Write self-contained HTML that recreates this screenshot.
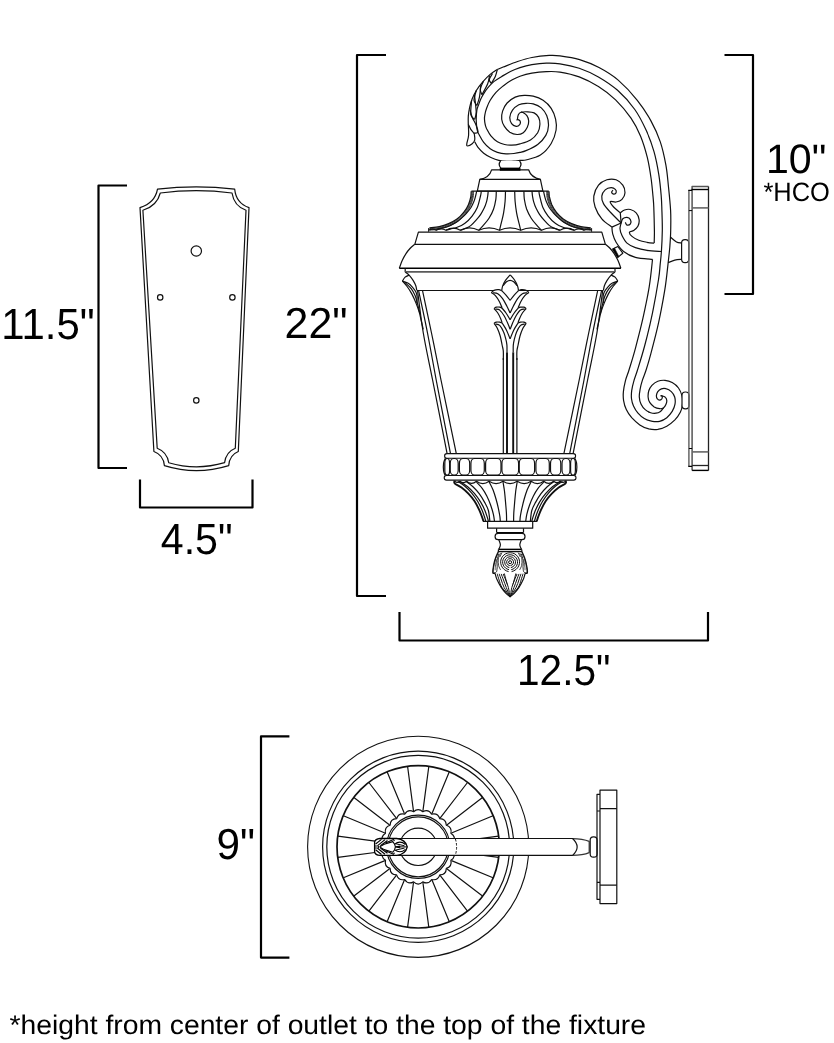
<!DOCTYPE html>
<html><head><meta charset="utf-8"><title>Fixture dimensions</title>
<style>
html,body{margin:0;padding:0;background:#fff;}
body{width:834px;height:1043px;overflow:hidden;}
svg{display:block;}
text{font-family:"Liberation Sans",sans-serif;fill:#000;will-change:opacity;text-rendering:geometricPrecision;}
path,rect,circle,ellipse{stroke-linejoin:round;}
</style></head><body>
<svg width="834" height="1043" viewBox="0 0 834 1043">
<rect x="0" y="0" width="834" height="1043" fill="#fff" stroke="none"/>
<path d="M127,185.5 H98.5 V468 H127" fill="none" stroke="#000" stroke-width="2.2" stroke-linejoin="miter"/>
<path d="M140,479.5 V507.5 H252.5 V479.5" fill="none" stroke="#000" stroke-width="2.2" stroke-linejoin="miter"/>
<path d="M386,55 H357 V596 H386" fill="none" stroke="#000" stroke-width="2.2" stroke-linejoin="miter"/>
<path d="M399.5,612 V640.5 H708 V612" fill="none" stroke="#000" stroke-width="2.2" stroke-linejoin="miter"/>
<path d="M724.5,55 H753 V294 H724.5" fill="none" stroke="#000" stroke-width="2.2" stroke-linejoin="miter"/>
<path d="M289.4,736.4 H261 V957.6 H289.4" fill="none" stroke="#000" stroke-width="2.2" stroke-linejoin="miter"/>
<text transform="translate(1.2 339.2) scale(1 1.035)" font-size="42" textLength="93.4" lengthAdjust="spacingAndGlyphs">11.5"</text>
<text transform="translate(284.6 338.2) scale(1 1.035)" font-size="42" textLength="63" lengthAdjust="spacingAndGlyphs">22"</text>
<text transform="translate(160.8 553.9) scale(1 1.035)" font-size="42" textLength="71.8" lengthAdjust="spacingAndGlyphs">4.5"</text>
<text transform="translate(517 685) scale(1 1.035)" font-size="42" textLength="93.4" lengthAdjust="spacingAndGlyphs">12.5"</text>
<text transform="translate(766 173.3) scale(1 1.000)" font-size="41.2" textLength="60.3" lengthAdjust="spacingAndGlyphs">10"</text>
<text transform="translate(763.4 201.4) scale(1 1.000)" font-size="26.6" textLength="66.5" lengthAdjust="spacingAndGlyphs">*HCO</text>
<text transform="translate(216.6 859) scale(1 1.035)" font-size="42" textLength="38.5" lengthAdjust="spacingAndGlyphs">9"</text>
<text transform="translate(9.5 1033.8) scale(1 1.000)" font-size="26.9" textLength="636.5" lengthAdjust="spacingAndGlyphs">*height from center of outlet to the top of the fixture</text>
<path d="M157.5,189.2 Q196.3,184.4 234.7,189.2 Q236,203 249,207.6 L238.3,451.5 Q229.5,455 228.7,465.6 Q196.3,475.6 164.4,465.6 Q163.5,455 153.9,451.5 L140,207.6 Q155,203 157.5,189.2Z" fill="none" stroke="#111" stroke-width="1.2"/>
<path d="M160.3,193 Q196.3,188.4 232,193 Q234,206 246,210.3 L235.3,448.3 Q226,452 224.6,462.7 Q196.3,471 168.7,462.7 Q167,452 157.2,448.3 L142.9,210.3 Q157,206 160.3,193Z" fill="none" stroke="#111" stroke-width="1.2"/>
<circle cx="196.3" cy="251" r="5.2" fill="none" stroke="#111" stroke-width="1.2"/>
<circle cx="160.2" cy="297.4" r="2.7" fill="none" stroke="#111" stroke-width="1.2"/>
<circle cx="232.4" cy="297.4" r="2.7" fill="none" stroke="#111" stroke-width="1.2"/>
<circle cx="196.3" cy="400.4" r="2.7" fill="none" stroke="#111" stroke-width="1.2"/>
<path d="M497.4,69.4 C498.4,69 499.8,68.3 503.2,67 C506.6,65.7 512.8,63.1 517.6,61.5 C522.4,59.9 526.6,58.5 531.9,57.5 C537.2,56.5 544.5,55.7 549.2,55.4 C553.9,55.1 554.9,55.1 560,55.8 C565.1,56.5 573.1,57.6 579.6,59.6 C586.1,61.6 592.6,64.1 599,67.5 C605.4,70.9 611.8,74.6 618.2,80.1 C624.6,85.6 631.9,93.5 637.3,100.3 C642.7,107 647,113.7 650.8,120.6 C654.6,127.5 657.8,134.5 660.3,141.9 C662.8,149.3 664.5,157.6 665.9,165.1 C667.3,172.6 667.7,179.4 668.5,187 C669.3,194.6 670.2,203.2 670.6,210.4 C671,217.7 670.8,224.3 670.7,230.5 C670.6,236.7 670.2,241.7 669.8,247.3 C669.3,252.9 668.8,257 668,264.1 C667.2,271.2 666.4,280.1 664.8,289.9 C663.2,299.6 660.9,312 658.6,322.6 C656.3,333.2 652.9,345.9 650.8,353.8 C648.7,361.7 647.5,365.6 646.1,370 C644.7,374.4 643.5,376.8 642.5,379.9 C641.5,383 640.7,386 640.2,388.9 C639.7,391.8 639.1,394.4 639.3,397 C639.4,399.6 640.1,402.1 641.1,404.2 C642.1,406.3 643.6,408.2 645.2,409.6 C646.8,411 648.8,412.1 650.6,412.7 C652.4,413.3 654.4,413.4 656,413.2 C657.6,413 659.2,412.3 660.5,411.4 C661.8,410.5 663.1,408.4 663.6,407.8" fill="none" stroke="#111" stroke-width="1.2"/>
<path d="M652.5,259.4 C652,264 650.8,277.1 649.2,286.8 C647.6,296.6 645.3,307.5 643,317.9 C640.7,328.3 637.5,340.4 635.2,349.1 C632.9,357.8 630.6,364.7 629,370 C627.4,375.3 626.3,377.2 625.4,380.8 C624.5,384.4 623.7,388.3 623.4,391.6 C623.1,394.9 623.1,397.6 623.6,400.6 C624.1,403.6 624.9,406.8 626.3,409.6 C627.6,412.5 629.5,415.1 631.7,417.7 C634,420.2 636.9,423 639.8,424.9 C642.6,426.8 645.8,428.1 648.8,428.9 C651.8,429.6 654.8,429.8 657.8,429.4 C660.8,428.9 663.9,427.8 666.8,426.2 C669.6,424.6 672.6,422.2 674.9,419.9 C677.1,417.6 679,414.9 680.3,412.3 C681.6,409.7 682.2,406.9 682.5,404.2 C682.8,401.5 682.8,398.8 682.1,396.1 C681.4,393.4 680.1,390.2 678.5,388 C676.9,385.8 674.5,383.9 672.2,382.6 C670,381.3 667.4,380.5 665,380.3 C662.6,380.1 660,380.4 657.8,381.2 C655.6,382 653.4,383.7 651.9,385.3 C650.4,386.9 649.4,388.8 648.8,390.7 C648.2,392.6 648,395.1 648.1,397 C648.2,398.9 648.7,400.8 649.7,402.4 C650.7,404 652.6,405.8 654.2,406.9 C655.9,407.9 658,408.5 659.6,408.7 C661.2,408.9 662.6,408.5 663.6,407.8 C664.6,407.1 665.4,405.8 665.9,404.6 C666.4,403.4 666.9,401.8 666.8,400.6 C666.7,399.4 666.1,398.1 665.4,397.4 C664.7,396.6 663.5,396.4 662.7,396.1 C661.9,395.8 660.9,395.7 660.5,395.6" fill="none" stroke="#111" stroke-width="1.2"/>
<path d="M474.7,141.7 C475.2,142.6 476.5,145.5 478,147.4 C479.5,149.3 481.6,151.5 483.7,153.2 C485.8,154.9 488.4,156.3 490.9,157.5 C493.4,158.7 496.1,159.8 498.8,160.4 C501.5,161.1 504.3,161.3 506.8,161.4 C509.3,161.5 511.8,161.4 514,161.2 C516.2,161 518,160.6 520,160.4 C522,160.2 522.6,160.9 526,160 C529.4,159.1 536.2,157.8 540.4,155.1 C544.6,152.3 548.6,147.7 551.2,143.5 C553.8,139.3 555.4,134.1 556.1,130 C556.8,126 556.4,122.8 555.6,119.2 C554.8,115.6 553.3,111.6 551.2,108.4 C549.1,105.2 546.1,102.3 543.1,100.3 C540.1,98.3 536.4,97 533.2,96.2 C530.1,95.4 527.2,95.2 524.2,95.3 C521.2,95.4 518.1,95.8 515.2,97.1 C512.4,98.4 509.2,100.7 507.1,103 C505,105.3 503.5,108.4 502.6,111.1 C501.7,113.8 501.4,116.7 501.7,119.2 C502,121.8 503,124.2 504.4,126.4 C505.8,128.6 507.7,130.8 509.8,132.2 C511.9,133.5 514.8,134.4 517,134.5 C519.2,134.6 521.6,133.9 523.3,132.7 C525,131.5 526.4,129.2 527.3,127.3 C528.2,125.3 528.8,123 528.7,121 C528.6,119 527.9,117 526.9,115.6 C525.9,114.2 523.8,113 522.8,112.4 C521.8,111.8 521.3,112.2 521,112.2" fill="none" stroke="#111" stroke-width="1.2"/>
<path d="M516.5,120.1 C516.7,120 517.3,119.4 517.9,119.6 C518.5,119.8 519.8,120.2 520.1,121 C520.4,121.8 520.4,123.7 519.7,124.6 C519,125.5 517.5,126.6 516.1,126.4 C514.8,126.2 512.6,125.2 511.6,123.7 C510.6,122.2 509.7,119.7 509.8,117.4 C509.9,115.2 511,112.3 512.5,110.2 C514,108.1 516.5,106 518.8,104.8 C521,103.6 523.6,103.4 526,103.3 C528.4,103.2 530.7,103.1 533.2,103.9 C535.8,104.7 539,106 541.3,107.9 C543.5,109.9 545.5,112.7 546.7,115.6 C547.9,118.5 548.6,122.2 548.5,125.5 C548.4,128.8 547.6,132.2 545.8,135.4 C544,138.6 541,141.9 537.7,144.4 C534.4,146.9 529,149.3 526,150.6 C523,151.9 522,151.9 520,152.4 C518,152.9 516.3,153.2 514,153.5 C511.7,153.8 508.8,154.1 506,153.9 C503.2,153.7 500,153.2 497.4,152.4 C494.8,151.6 492.5,150.5 490.2,148.8 C487.9,147.1 485.5,144.7 483.7,142.4 C481.9,140.1 480.4,137 479.4,135.2 C478.4,133.4 478.1,133 477.6,131.6 C477.2,130.2 476.9,128.6 476.7,126.6 C476.5,124.6 476.2,122.2 476.2,119.4 C476.2,116.6 476.5,112.5 476.9,110 C477.3,107.5 478,106.5 478.7,104.6 C479.4,102.7 479.9,100.8 480.9,98.8 C481.9,96.8 483.2,94.4 484.5,92.4 C485.8,90.4 487.2,88.4 488.8,86.6 C490.4,84.8 491.7,83.3 493.8,81.6 C495.9,79.9 498.9,78.2 501.7,76.5 C504.5,74.8 507.3,73 510.4,71.5 C513.4,70 516.4,68.8 520,67.6 C523.6,66.4 527.5,65.3 531.9,64.6 C536.3,63.9 541.6,63.3 546.3,63.2 C551,63.1 554.5,63 560,63.8 C565.5,64.6 572.8,66 579.2,68.2 C585.6,70.4 592,73.2 598.4,76.9 C604.8,80.6 611.5,84.9 617.6,90.3 C623.7,95.7 630,102.8 634.8,109.5 C639.6,116.2 643.1,123.6 646.3,130.6 C649.5,137.6 651.9,144.3 654,151.7 C656.1,159 657.6,167.3 658.8,174.7 C660,182 660.7,189.9 661.2,195.8 C661.7,201.8 661.7,204.6 661.9,210.4 C662.1,216.2 662.4,223.7 662.3,230.5 C662.2,237.3 661.8,245.9 661.4,251.5 C661,257.1 660.7,259.5 660.2,264.1 C659.7,268.7 659.9,270.8 658.6,279 C657.3,287.2 654.7,302.1 652.4,313.3 C650.1,324.5 647.1,336.6 644.6,346 C642.1,355.4 639.3,364.2 637.5,370 C635.7,375.8 634.9,377.4 633.9,380.8 C632.9,384.2 632.1,387.7 631.7,390.7 C631.3,393.7 631.2,396.2 631.5,398.8 C631.8,401.4 632.4,403.6 633.5,406 C634.6,408.4 636.2,411.1 638,413.2 C639.8,415.3 641.9,417.2 644.3,418.6 C646.7,420 649.8,420.9 652.4,421.3 C655,421.8 657.2,421.9 659.6,421.3 C662,420.7 664.7,419.4 666.8,417.7 C668.9,416 670.8,413.6 672.2,411.4 C673.6,409.1 674.6,406.6 675,404.2 C675.4,401.8 675.3,399.1 674.7,397 C674.1,394.9 672.8,393 671.3,391.6 C669.8,390.2 667.5,389.1 665.9,388.7 C664.2,388.2 662.8,388.4 661.4,388.9 C660,389.4 658.6,390.5 657.8,391.6 C657,392.7 656.5,394.4 656.4,395.6 C656.3,396.8 656.8,398.1 657.3,398.8 C657.8,399.6 658.9,400.1 659.6,400.1 C660.4,400.1 661.3,399.4 661.8,398.8 C662.2,398.2 662.4,397 662.3,396.5 C662.1,396 661.1,395.8 660.9,395.6" fill="none" stroke="#111" stroke-width="1.2"/>
<path d="M517.4,119.6 C517.5,118.8 517.7,115.9 518.3,114.7 C518.9,113.5 519.4,112.7 521,112.2 C522.6,111.7 525.6,111.7 527.8,111.8 C530,111.9 532.3,112 534.1,112.9 C535.9,113.8 537.6,115.5 538.6,117.4 C539.6,119.4 540,122 539.9,124.6 C539.8,127.1 539.3,130.1 537.7,132.7 C536.1,135.2 533.5,138.1 530.5,139.9 C527.5,141.8 523.1,142.9 520,143.8 C516.9,144.7 514.4,145 511.8,145.1 C509.2,145.2 507,145.1 504.6,144.5 C502.2,143.9 499.7,143.1 497.4,141.7 C495.1,140.3 492.7,138.1 490.9,135.9 C489.1,133.7 487.6,130.6 486.6,128.7 C485.7,126.8 485.6,126 485.2,124.5 C484.8,123 484.6,121.1 484.5,119.4 C484.4,117.8 484.5,116.5 484.9,114.6 C485.2,112.7 485.7,110.6 486.6,108.2 C487.5,105.8 488.6,102.9 490.2,100.3 C491.8,97.7 493.8,94.8 496,92.4 C498.2,90 500.6,88 503.2,85.9 C505.8,83.9 509,81.7 511.8,80.1 C514.6,78.5 516.6,77.3 520,76.2 C523.4,75.1 527.5,74 531.9,73.2 C536.3,72.4 541.6,71.8 546.3,71.6 C551,71.4 554.5,71.2 560,72.1 C565.5,73 572.8,74.5 579.2,76.9 C585.6,79.3 592.3,82.7 598.4,86.5 C604.5,90.3 610.2,94.6 615.6,99.9 C621,105.2 626.8,112 631,118.1 C635.2,124.2 637.9,129.8 640.6,136.3 C643.3,142.9 645.5,150.4 647.3,157.4 C649,164.4 650.1,171.5 651.1,178.5 C652.1,185.5 652.8,194.3 653.3,199.6 C653.8,204.9 653.7,205.2 653.9,210.4 C654.1,215.6 654.3,225.1 654.4,230.5 C654.5,235.9 654.2,241 654.2,243.1" fill="none" stroke="#111" stroke-width="1.2"/>
<path d="M497.4,69.4 C496.2,70.2 492.6,72.4 490.2,74.4 C487.8,76.4 485.3,79 483,81.6 C480.7,84.2 478.3,87.3 476.5,90.2 C474.7,93.1 473.3,95.9 472.2,98.8 C471.1,101.7 470.2,104.6 469.6,107.5 C469,110.4 468.5,113.3 468.3,116.1 C468.1,118.9 468.2,121.2 468.3,124.4 C468.4,127.6 468.9,132 468.6,135.2 C468.4,138.4 467,142 466.8,143.8 C466.6,145.6 466.7,146 467.6,146 C468.5,146 471,144.8 472.2,143.8 C473.4,142.8 474.3,141.8 474.7,140.2 C475.1,138.6 474.6,135.7 474.4,134.5 C474.2,133.3 473.8,133.2 473.7,133" fill="none" stroke="#111" stroke-width="1.2"/>
<path d="M497.4,69.4 C497,70.6 496.3,74.2 495.3,76.5 C494.3,78.8 492,82.2 491.3,83.4" fill="none" stroke="#111" stroke-width="1.2"/>
<path d="M491.3,83.4 C491,82.8 489.1,81.2 489.3,79.5 C489.5,77.8 492,74.5 492.5,73.5" fill="none" stroke="#111" stroke-width="1.2"/>
<path d="M489.5,75.5 C489.2,76.9 489,80.5 487.7,83.7 C486.4,86.9 482.9,92.9 481.9,94.7" fill="none" stroke="#111" stroke-width="1.2"/>
<path d="M481.9,94.7 C481.6,93.7 480,91 480.3,88.8 C480.6,86.5 483,82.5 483.5,81.2" fill="none" stroke="#111" stroke-width="1.2"/>
<path d="M480.9,85.2 C480.6,87.2 480.1,94 479.4,97.4 C478.7,100.8 477.3,104.2 476.9,105.5" fill="none" stroke="#111" stroke-width="1.2"/>
<path d="M476.9,105.5 C476.4,104.6 474.1,102.8 474,100.3 C473.9,97.8 475.9,92.1 476.3,90.5" fill="none" stroke="#111" stroke-width="1.2"/>
<path d="M474.4,94.5 C474.7,97.4 476.1,107.6 476.2,111.8 C476.2,116 474.9,118.1 474.7,119.4" fill="none" stroke="#111" stroke-width="1.2"/>
<path d="M474.7,119.4 C474.1,118.6 471.3,117.9 470.8,114.7 C470.3,111.5 471.5,102.5 471.6,100" fill="none" stroke="#111" stroke-width="1.2"/>
<path d="M470.1,110 C470.5,111.2 471.2,114.8 472.2,117.2 C473.1,119.6 474.8,122 475.8,124.4 C476.8,126.8 477.9,130.2 478,131.6 C478.1,133 477.2,132.8 476.5,133 C475.8,133.2 474.2,133 473.7,133" fill="none" stroke="#111" stroke-width="1.2"/>
<path d="M468.3,124.4 C468.7,125.2 469.9,128 470.8,129.4 C471.7,130.8 473.2,132.4 473.7,133" fill="none" stroke="#111" stroke-width="1.2"/>
<path d="M611.9,227.1 C610.2,225.7 604.6,222.2 601.8,218.8 C599,215.5 596.4,210.8 595.1,207 C593.8,203.2 593.2,199.7 593.8,196.1 C594.4,192.5 596.3,187.9 598.5,185.2 C600.7,182.5 604,180.7 606.9,179.8 C609.8,178.9 613.5,178.9 616.1,179.8 C618.8,180.7 621.3,183 622.8,185.2 C624.3,187.3 625.1,190.3 625,192.7 C624.9,195.1 623.5,197.8 622,199.4 C620.5,201 618.1,201.6 616.1,202 C614.1,202.4 610.6,200.8 610.2,201.6 C609.8,202.4 611.9,205.1 613.6,207 C615.3,208.9 619.2,211.9 620.3,212.9" fill="none" stroke="#111" stroke-width="1.2"/>
<path d="M621.1,223 C619.3,221.2 613.1,215.2 610.2,212 C607.3,208.8 604.9,206.2 603.5,203.6 C602.1,200.9 601.5,198.4 601.8,196.1 C602.1,193.8 603.7,191.3 605.2,189.9 C606.8,188.5 609.4,187.8 611.1,187.7 C612.8,187.6 614.5,188.6 615.3,189.4 C616.1,190.2 616.4,191.9 616.1,192.7 C615.8,193.5 614.4,194.2 613.6,194.1 C612.9,194 611.7,192.8 611.6,192.2 C611.5,191.5 612.7,190.5 612.9,190.2" fill="none" stroke="#111" stroke-width="1.2"/>
<path d="M620.3,212.9 C621,212.4 622.8,210.6 624.5,210 C626.2,209.4 628.4,209 630.4,209.5 C632.4,210 634.8,211.2 636.2,212.9 C637.7,214.6 638.8,217.4 639.1,219.6 C639.4,221.8 638.8,224.5 637.9,226.3 C637,228.1 635.1,229.5 633.7,230.5 C632.3,231.5 629.8,231.2 629.5,232.2 C629.2,233.2 630.5,235.1 632,236.4 C633.5,237.7 636.3,239.2 638.8,240.2 C641.3,241.2 644.5,241.8 647.1,242.3 C649.7,242.8 653,243 654.2,243.1" fill="none" stroke="#111" stroke-width="1.2"/>
<path d="M621.1,223 C621.4,222.3 621.8,219.7 622.8,218.8 C623.8,217.9 625.7,217.3 627,217.4 C628.3,217.5 629.8,218.5 630.4,219.6 C631,220.7 631,222.9 630.4,223.8 C629.8,224.7 627.9,225.3 627,225.1 C626.1,224.9 625.6,222.8 625.3,222.4" fill="none" stroke="#111" stroke-width="1.2"/>
<path d="M611.9,227.1 C612,228.2 612,231.4 612.7,233.9 C613.4,236.4 614.3,239.4 616.1,242.3 C617.9,245.2 620.4,249 623.6,251.5 C626.8,254 630.6,256.1 635.4,257.4 C640.2,258.7 649.6,259.1 652.5,259.4" fill="none" stroke="#111" stroke-width="1.2"/>
<path d="M621.1,223 C620.9,224 619.9,226.7 620,228.8 C620.1,230.9 620.8,233.1 622,235.5 C623.2,237.9 624.8,241.1 627,243.1 C629.2,245.1 632,246.4 635.4,247.6 C638.8,248.8 642.8,249.7 647.1,250.3 C651.4,251 659,251.3 661.4,251.5" fill="none" stroke="#111" stroke-width="1.2"/>
<path d="M611.9,227.1 L621.1,223 L620.3,212.9" fill="none" stroke="#111" stroke-width="1.2"/>
<path d="M612.7,249 L617.8,246.5 L622.8,253.2 L617.8,257.4Z" fill="#fff" stroke="#111" stroke-width="1.2"/>
<path d="M612.7,249 L614.5,248.1 L618.9,256.5 L617.8,257.4Z" fill="#000" stroke="#111" stroke-width="0.6"/>
<path d="M670.6,237.2 C671.6,238 674.7,240.9 676.5,241.9 C678.3,242.9 680.8,242.9 681.6,243.1" fill="none" stroke="#111" stroke-width="1.2"/>
<path d="M668.1,262.7 C669.2,262.3 672.5,260.8 674.8,260.2 C677,259.6 680.5,259.5 681.6,259.4" fill="none" stroke="#111" stroke-width="1.2"/>
<rect x="681.6" y="239.7" width="7.2" height="23" rx="3.4" fill="#fff" stroke="#111" stroke-width="1.2"/>
<rect x="682" y="392" width="7" height="16.8" rx="3.3" fill="#fff" stroke="#111" stroke-width="1.2"/>
<path d="M692.1,470.4 V186.6 H708.5" fill="none" stroke="#555" stroke-width="1.5"/>
<path d="M708.5,186.6 V470.4" fill="none" stroke="#222" stroke-width="1.3"/>
<path d="M692.1,470.4 H708.5" fill="none" stroke="#000" stroke-width="1.4"/>
<path d="M691.5,189.5 H708.5" fill="none" stroke="#000" stroke-width="1.4"/>
<path d="M692.1,207.9 H708.5" fill="none" stroke="#666" stroke-width="1.6"/>
<path d="M692.1,451.9 H708.5" fill="none" stroke="#666" stroke-width="1.6"/>
<path d="M692.1,465.5 H708.5" fill="none" stroke="#222" stroke-width="1.3"/>
<path d="M688.9,190.3 V466.4" fill="none" stroke="#666" stroke-width="1.5"/>
<path d="M688.3,190.3 H692.1 M688.3,466.4 H692.1" fill="none" stroke="#000" stroke-width="1.2"/>
<path d="M688.9,210.6 H692.1 M688.9,448.5 H692.1" fill="none" stroke="#000" stroke-width="1"/>
<path d="M500.6,161 Q497.6,164.6 501.2,168.4 H519 Q522.6,164.6 519.6,161" fill="#fff" stroke="#111" stroke-width="1.2"/>
<path d="M491.6,169.8 H528.6 Q531,177.5 540.4,179.4 L542.9,191.1 H477.3 L479.8,179.4 Q489.5,177.5 491.6,169.8Z" fill="#fff" stroke="#111" stroke-width="1.2"/>
<path d="M479.8,179.4 H540.4" fill="none" stroke="#111" stroke-width="1.2"/>
<path d="M500,168.1 H520.2 V170.5 H500Z" fill="#000" stroke="#000" stroke-width="0.5"/>
<path d="M471.4,191.1 H548.8" fill="none" stroke="#111" stroke-width="1.2"/>
<path d="M471.2,191.2 C471.1,192.1 471.2,194.5 470.8,196.7 C470.4,198.9 469.6,201.8 468.5,204.4 C467.4,207 465.8,209.7 463.9,212.1 C462,214.5 459.6,217.1 457,219 C454.4,220.9 451.6,222.3 448.6,223.6 C445.7,224.9 442.5,226 439.3,226.7 C436.1,227.4 431,227.6 429.4,227.8" fill="none" stroke="#111" stroke-width="1.2"/>
<path d="M549,191.2 C549.1,192.1 549,194.5 549.4,196.7 C549.9,198.9 550.6,201.8 551.7,204.4 C552.9,207 554.4,209.7 556.3,212.1 C558.2,214.5 560.7,217.1 563.2,219 C565.8,220.9 568.6,222.3 571.6,223.6 C574.6,224.9 577.7,226 580.9,226.7 C584.1,227.4 589.2,227.6 590.8,227.8" fill="none" stroke="#111" stroke-width="1.2"/>
<path d="M472,191.2 C471.9,192.1 472,194.6 471.6,196.9 C471.1,199.1 470.4,202.1 469.2,204.7 C468.1,207.3 466.5,210.1 464.5,212.6 C462.6,215.1 460.1,217.7 457.5,219.6 C454.9,221.6 451.9,223 448.9,224.3 C445.9,225.6 442.7,226.8 439.5,227.5 C436.2,228.2 431.2,228.4 429.5,228.6" fill="none" stroke="#111" stroke-width="0.8"/>
<path d="M548.2,191.2 C548.3,192.1 548.2,194.6 548.6,196.9 C549.1,199.1 549.8,202.1 551,204.7 C552.1,207.3 553.7,210.1 555.7,212.6 C557.6,215.1 560.1,217.7 562.7,219.6 C565.3,221.6 568.3,223 571.3,224.3 C574.3,225.6 577.5,226.8 580.7,227.5 C584,228.2 589,228.4 590.7,228.6" fill="none" stroke="#111" stroke-width="0.8"/>
<path d="M472.8,191.2 C472.7,192.2 472.8,194.7 472.4,197 C471.9,199.3 471.2,202.4 470,205.1 C468.8,207.7 467.2,210.6 465.2,213.1 C463.2,215.6 460.6,218.3 458,220.3 C455.3,222.3 452.3,223.7 449.2,225.1 C446.2,226.4 442.9,227.5 439.6,228.3 C436.4,229 431.3,229.2 429.6,229.4" fill="none" stroke="#111" stroke-width="0.8"/>
<path d="M547.4,191.2 C547.5,192.2 547.4,194.7 547.8,197 C548.3,199.3 549,202.4 550.2,205.1 C551.4,207.7 553,210.6 555,213.1 C557,215.6 559.6,218.3 562.2,220.3 C564.9,222.3 567.9,223.7 571,225.1 C574,226.4 577.3,227.5 580.6,228.3 C583.8,229 588.9,229.2 590.6,229.4" fill="none" stroke="#111" stroke-width="0.8"/>
<path d="M473.6,191.2 C473.5,192.2 473.6,194.8 473.2,197.2 C472.7,199.5 471.9,202.6 470.7,205.4 C469.5,208.1 467.8,211 465.8,213.6 C463.7,216.2 461.1,218.9 458.4,220.9 C455.7,223 452.7,224.4 449.6,225.8 C446.5,227.2 443.1,228.3 439.8,229 C436.5,229.8 431.4,230 429.7,230.2" fill="none" stroke="#111" stroke-width="0.8"/>
<path d="M546.6,191.2 C546.7,192.2 546.6,194.8 547,197.2 C547.5,199.5 548.3,202.6 549.5,205.4 C550.7,208.1 552.4,211 554.4,213.6 C556.5,216.2 559.1,218.9 561.8,220.9 C564.5,223 567.5,224.4 570.6,225.8 C573.7,227.2 577.1,228.3 580.4,229 C583.7,229.8 588.8,230 590.5,230.2" fill="none" stroke="#111" stroke-width="0.8"/>
<path d="M505.5,191.2 C505.4,192.9 505.4,197.7 505.1,201.3 C504.8,204.9 504.2,209.3 503.6,212.9 C503,216.5 502,219.9 501.3,222.8 C500.6,225.7 499.8,229.1 499.5,230.3" fill="none" stroke="#111" stroke-width="1.2"/>
<path d="M514.7,191.2 C514.8,192.9 514.8,197.7 515.1,201.3 C515.4,204.9 516,209.3 516.6,212.9 C517.2,216.5 518.2,219.9 518.9,222.8 C519.6,225.7 520.4,229.1 520.7,230.3" fill="none" stroke="#111" stroke-width="1.2"/>
<path d="M496.3,191.2 C496.2,192.5 496.3,196 495.9,199 C495.4,202 494.8,205.8 493.6,209 C492.5,212.2 490.8,215.4 489,218.2 C487.2,221 484.6,223.9 482.9,225.9 C481.2,227.9 479.4,229.6 478.7,230.3" fill="none" stroke="#111" stroke-width="1.2"/>
<path d="M523.9,191.2 C524,192.5 523.9,196 524.3,199 C524.8,202 525.5,205.8 526.6,209 C527.8,212.2 529.4,215.4 531.2,218.2 C533,221 535.6,223.9 537.3,225.9 C539,227.9 540.8,229.6 541.5,230.3" fill="none" stroke="#111" stroke-width="1.2"/>
<path d="M488.2,191.2 C488.1,192 488,194.2 487.7,196 C487.4,197.8 487.1,199.8 486.5,201.8 C485.9,203.8 485.2,206 484.2,208.1 C483.2,210.2 482,212.4 480.7,214.4 C479.4,216.4 477.7,218.4 476.1,220.2 C474.5,222 472.5,224.1 471,225.4 C469.5,226.7 468.7,227.1 466.9,227.9 C465.1,228.7 461.4,229.9 460.3,230.3" fill="none" stroke="#111" stroke-width="1.2"/>
<path d="M532,191.2 C532.1,192 532.2,194.2 532.5,196 C532.8,197.8 533.1,199.8 533.7,201.8 C534.3,203.8 535,206 536,208.1 C537,210.2 538.1,212.4 539.5,214.4 C540.9,216.4 542.5,218.4 544.1,220.2 C545.7,222 547.7,224.1 549.2,225.4 C550.7,226.7 551.5,227.1 553.3,227.9 C555.1,228.7 558.8,229.9 559.9,230.3" fill="none" stroke="#111" stroke-width="1.2"/>
<path d="M481.3,191.2 C481.2,192 481.2,193.3 480.5,196 C479.8,198.7 478.7,204.2 477.3,207.5 C475.9,210.8 474.2,213.4 472.1,216.1 C470,218.8 467.1,221.7 464.6,223.6 C462.1,225.5 460.3,226.2 457.2,227.3 C454.1,228.4 447.9,229.7 446,230.2" fill="none" stroke="#111" stroke-width="1.2"/>
<path d="M538.9,191.2 C539,192 539,193.3 539.7,196 C540.4,198.7 541.5,204.2 542.9,207.5 C544.3,210.8 546,213.4 548.1,216.1 C550.2,218.8 553.1,221.7 555.6,223.6 C558.1,225.5 559.9,226.2 563,227.3 C566.1,228.4 572.3,229.7 574.2,230.2" fill="none" stroke="#111" stroke-width="1.2"/>
<path d="M476.7,191.2 C476.5,192 476.1,194.2 475.6,196 C475.1,197.8 474.6,199.9 473.8,201.8 C473,203.7 472.2,205.6 471,207.5 C469.8,209.4 468,211.5 466.4,213.3 C464.8,215.1 462.9,216.9 461.2,218.4 C459.5,219.9 458.2,221.2 456,222.5 C453.8,223.8 451.2,225.4 448,226.5 C444.8,227.6 438.4,228.8 436.5,229.3" fill="none" stroke="#111" stroke-width="1.2"/>
<path d="M543.5,191.2 C543.7,192 544.1,194.2 544.6,196 C545.1,197.8 545.6,199.9 546.4,201.8 C547.2,203.7 548,205.6 549.2,207.5 C550.4,209.4 552.2,211.5 553.8,213.3 C555.4,215.1 557.3,216.9 559,218.4 C560.7,219.9 562,221.2 564.2,222.5 C566.4,223.8 569,225.4 572.2,226.5 C575.5,227.6 581.8,228.8 583.7,229.3" fill="none" stroke="#111" stroke-width="1.2"/>
<path d="M428.6,230.3 Q432.5,228 436.3,230.3 Q441.1,227.4 446,230.3 Q453.1,226 460.3,230.3 Q469.5,225.3 478.7,230.3 Q489.1,225.3 499.5,230.3 Q510.1,225.3 520.7,230.3 Q531.1,225.3 541.5,230.3 Q550.7,225.3 559.9,230.3 Q567,226 574.2,230.3 Q579,227.4 583.9,230.3 Q587.8,228 591.6,230.3" fill="none" stroke="#111" stroke-width="1.2"/>
<path d="M428.6,228.1 V231.8 M591.6,228.1 V231.8" fill="none" stroke="#111" stroke-width="1"/>
<path d="M418.4,232.2 H601.8 L605.4,244.3 H414.8Z" fill="none" stroke="#111" stroke-width="1.2"/>
<path d="M414.8,244.3 C414,245 411.5,246.9 410,248.5 C408.5,250.1 407.3,251.6 406,253.6 C404.7,255.6 403.3,258.1 402.2,260.5 C401.1,262.9 399.8,267 399.3,268.3" fill="none" stroke="#111" stroke-width="1.2"/>
<path d="M605.4,244.3 C606.2,245 608.7,246.9 610.2,248.5 C611.7,250.1 612.9,251.6 614.2,253.6 C615.5,255.6 616.9,258.1 618,260.5 C619.1,262.9 620.4,267 620.9,268.3" fill="none" stroke="#111" stroke-width="1.2"/>
<path d="M399.3,268.2 H620.9" fill="none" stroke="#000" stroke-width="1.5"/>
<path d="M405.2,268.3 V272.2 M615,268.3 V272.2" fill="none" stroke="#111" stroke-width="1.2"/>
<path d="M405.2,271.9 H615" fill="none" stroke="#5a5a5a" stroke-width="1.8"/>
<path d="M417,290.5 H494 M519.4,290.5 H603.2" fill="none" stroke="#111" stroke-width="1.2"/>
<path d="M405.4,272.2 C406,272.7 407.8,273.7 409.1,275.1 C410.4,276.5 412,278.6 413.1,280.4 C414.2,282.2 415.2,284.1 415.8,285.8 C416.4,287.5 416.6,289.6 416.8,290.4" fill="none" stroke="#111" stroke-width="1.2"/>
<path d="M614.8,272.2 C614.2,272.7 612.4,273.7 611.1,275.1 C609.8,276.5 608.2,278.6 607.1,280.4 C606,282.2 605,284.1 604.4,285.8 C603.8,287.5 603.6,289.6 603.4,290.4" fill="none" stroke="#111" stroke-width="1.2"/>
<path d="M409.1,275.1 C408.4,275.4 406.2,276.1 405.1,277.1 C404,278.1 402.8,280.4 402.4,281.1" fill="none" stroke="#111" stroke-width="1.2"/>
<path d="M611.1,275.1 C611.8,275.4 614,276.1 615.1,277.1 C616.2,278.1 617.4,280.4 617.8,281.1" fill="none" stroke="#111" stroke-width="1.2"/>
<path d="M402.4,281.1 C403.3,281.4 406.1,282.1 407.8,283.1 C409.5,284.1 411.1,285.7 412.4,287.1 C413.7,288.6 415,290.2 415.8,291.8 C416.6,293.4 416.9,294.6 417.1,296.5 C417.3,298.4 416.9,302.2 416.8,303.3" fill="none" stroke="#111" stroke-width="1.2"/>
<path d="M617.8,281.1 C616.9,281.4 614.1,282.1 612.4,283.1 C610.7,284.1 609.1,285.7 607.8,287.1 C606.5,288.6 605.2,290.2 604.4,291.8 C603.6,293.4 603.3,294.6 603.1,296.5 C602.9,298.4 603.4,302.2 603.4,303.3" fill="none" stroke="#111" stroke-width="1.2"/>
<path d="M402.4,281.1 C403.2,282 405.5,284.4 407.1,286.5 C408.7,288.6 410.4,291.2 411.8,293.9 C413.2,296.6 414.6,299.6 415.8,302.6 C417,305.6 418.3,309 419.2,312 C420.1,315 420.5,317.8 421.2,320.7 C421.9,323.6 422.9,327.9 423.2,329.4" fill="none" stroke="#111" stroke-width="1.2"/>
<path d="M617.8,281.1 C617,282 614.7,284.4 613.1,286.5 C611.5,288.6 609.9,291.2 608.4,293.9 C607,296.6 605.6,299.6 604.4,302.6 C603.2,305.6 601.9,309 601,312 C600.1,315 599.7,317.8 599,320.7 C598.3,323.6 597.3,327.9 597,329.4" fill="none" stroke="#111" stroke-width="1.2"/>
<path d="M404.6,282.2 C405.7,283.3 409.4,286.3 411.2,288.6 C413,290.9 414.1,293.3 415.2,295.8 C416.2,298.3 416.7,300.7 417.5,303.6 C418.3,306.5 419.4,311.7 419.8,313.3" fill="none" stroke="#111" stroke-width="1.2"/>
<path d="M615.6,282.2 C614.5,283.3 610.8,286.3 609,288.6 C607.2,290.9 606,293.3 605,295.8 C604,298.3 603.5,300.7 602.7,303.6 C601.9,306.5 600.8,311.7 600.4,313.3" fill="none" stroke="#111" stroke-width="1.2"/>
<path d="M417.5,290.5 C418.5,297.6 420.8,318.1 423.3,333 C425.8,347.9 428.6,359.9 432.6,380 C436.6,400.1 444.7,441.3 447.1,453.6" fill="none" stroke="#111" stroke-width="1.2"/>
<path d="M602.7,290.5 C601.7,297.6 599.4,318.1 596.9,333 C594.4,347.9 591.6,359.9 587.6,380 C583.6,400.1 575.5,441.3 573.1,453.6" fill="none" stroke="#111" stroke-width="1.2"/>
<path d="M418.6,290.5 C420.1,297.6 424.6,318.1 427.5,333 C430.4,347.9 432.4,359.9 436.2,380 C440,400.1 448.1,441.3 450.5,453.6" fill="none" stroke="#111" stroke-width="1.2"/>
<path d="M601.6,290.5 C600.1,297.6 595.6,318.1 592.7,333 C589.8,347.9 587.8,359.9 584,380 C580.2,400.1 572.1,441.3 569.7,453.6" fill="none" stroke="#111" stroke-width="1.2"/>
<path d="M422.5,290.5 C424,297.6 428.4,318.1 431.5,333 C434.6,347.9 436.9,359.9 441,380 C445.1,400.1 453.8,441.3 456.3,453.6" fill="none" stroke="#111" stroke-width="1.2"/>
<path d="M597.7,290.5 C596.2,297.6 591.8,318.1 588.7,333 C585.6,347.9 583.3,359.9 579.2,380 C575.1,400.1 566.5,441.3 563.9,453.6" fill="none" stroke="#111" stroke-width="1.2"/>
<path d="M510.1,274.8 C509.3,275.7 506.8,278.4 505.5,280.3 C504.2,282.2 503.2,284.4 502.6,286.1 C502,287.8 501.9,289.9 501.7,290.6" fill="none" stroke="#111" stroke-width="1.2"/>
<path d="M510.1,274.8 C510.9,275.7 513.5,278.4 514.7,280.3 C516,282.2 517,284.4 517.6,286.1 C518.2,287.8 518.4,289.9 518.5,290.6" fill="none" stroke="#111" stroke-width="1.2"/>
<path d="M503.1,285.6 C503.7,285 505.3,282.7 506.5,281.8 C507.7,280.9 508.9,280.3 510.1,280.3 C511.3,280.3 512.5,280.9 513.7,281.8 C514.9,282.7 516.5,285 517.1,285.6" fill="none" stroke="#111" stroke-width="1.2"/>
<path d="M491.3,292.6 C491.8,292.2 492.8,290.9 494,290.4 C495.2,289.9 497.5,289.6 498.8,289.7 C500.1,289.8 501.2,290.5 501.7,290.7" fill="none" stroke="#111" stroke-width="1.2"/>
<path d="M528.9,292.6 C528.5,292.2 527.5,290.9 526.2,290.4 C525,289.9 522.7,289.6 521.4,289.7 C520.1,289.8 519,290.5 518.5,290.7" fill="none" stroke="#111" stroke-width="1.2"/>
<path d="M501.7,290.7 C502.4,291.4 504.6,293.6 506,295.2 C507.4,296.8 509.4,299.4 510.1,300.3" fill="none" stroke="#111" stroke-width="1.2"/>
<path d="M518.5,290.7 C517.8,291.4 515.6,293.6 514.2,295.2 C512.8,296.8 510.8,299.4 510.1,300.3" fill="none" stroke="#111" stroke-width="1.2"/>
<path d="M493,292.8 C493.8,293 496.2,292.8 497.8,293.8 C499.4,294.8 501.1,296.5 502.6,298.6 C504.1,300.7 505.6,303.8 506.9,306.2 C508.1,308.6 509.6,311.9 510.1,313" fill="none" stroke="#111" stroke-width="1.2"/>
<path d="M527.2,292.8 C526.4,293 524,292.8 522.4,293.8 C520.8,294.8 519.1,296.5 517.6,298.6 C516.1,300.7 514.6,303.8 513.3,306.2 C512.1,308.6 510.6,311.9 510.1,313" fill="none" stroke="#111" stroke-width="1.2"/>
<path d="M491.3,292.6 C492,293.1 494.1,294.2 495.4,295.7 C496.7,297.2 498.2,299.5 499.3,301.5 C500.4,303.5 501.6,306.7 502.1,307.7" fill="none" stroke="#111" stroke-width="1.2"/>
<path d="M528.9,292.6 C528.2,293.1 526.1,294.2 524.8,295.7 C523.5,297.2 522,299.5 520.9,301.5 C519.8,303.5 518.6,306.7 518.1,307.7" fill="none" stroke="#111" stroke-width="1.2"/>
<path d="M494,308.6 C494.4,308.4 495.4,307.4 496.4,307.2 C497.3,307 498.8,307 499.7,307.2 C500.6,307.4 501.7,308 502.1,308.2" fill="none" stroke="#111" stroke-width="1.2"/>
<path d="M526.2,308.6 C525.8,308.4 524.8,307.4 523.8,307.2 C522.9,307 521.5,307 520.5,307.2 C519.5,307.4 518.5,308 518.1,308.2" fill="none" stroke="#111" stroke-width="1.2"/>
<path d="M502.1,308.2 C502.8,309 504.7,311.1 506,313 C507.3,314.9 509.4,318.6 510.1,319.7" fill="none" stroke="#111" stroke-width="1.2"/>
<path d="M518.1,308.2 C517.5,309 515.5,311.1 514.2,313 C512.9,314.9 510.8,318.6 510.1,319.7" fill="none" stroke="#111" stroke-width="1.2"/>
<path d="M495.4,309.1 C496.1,309.3 498.2,309 499.7,310.1 C501.1,311.2 502.8,313.7 504.1,315.8 C505.4,317.9 506.4,320.4 507.4,322.6 C508.4,324.9 509.7,328.2 510.1,329.3" fill="none" stroke="#111" stroke-width="1.2"/>
<path d="M524.8,309.1 C524.1,309.3 522,309 520.5,310.1 C519,311.2 517.4,313.7 516.1,315.8 C514.8,317.9 513.8,320.4 512.8,322.6 C511.8,324.9 510.6,328.2 510.1,329.3" fill="none" stroke="#111" stroke-width="1.2"/>
<path d="M494,308.6 C494.6,309.3 496.7,311.3 497.8,313 C498.9,314.7 500,317.1 500.7,318.7 C501.4,320.3 501.9,322.1 502.2,322.8" fill="none" stroke="#111" stroke-width="1.2"/>
<path d="M526.2,308.6 C525.6,309.3 523.5,311.3 522.4,313 C521.3,314.7 520.2,317.1 519.5,318.7 C518.8,320.3 518.2,322.1 518,322.8" fill="none" stroke="#111" stroke-width="1.2"/>
<path d="M494,323.3 C494.4,323.1 495.4,322.3 496.4,322.1 C497.3,321.9 498.8,322 499.7,322.1 C500.6,322.2 501.7,322.9 502.1,323" fill="none" stroke="#111" stroke-width="1.2"/>
<path d="M526.2,323.3 C525.8,323.1 524.8,322.3 523.8,322.1 C522.9,321.9 521.5,322 520.5,322.1 C519.5,322.2 518.5,322.9 518.1,323" fill="none" stroke="#111" stroke-width="1.2"/>
<path d="M502.1,323 C502.8,324.2 505.2,327.6 506.5,330.2 C507.8,332.8 509.5,337.4 510.1,338.9" fill="none" stroke="#111" stroke-width="1.2"/>
<path d="M518.1,323 C517.4,324.2 515,327.6 513.7,330.2 C512.4,332.8 510.7,337.4 510.1,338.9" fill="none" stroke="#111" stroke-width="1.2"/>
<path d="M495.4,324 C496.1,324.2 498.3,324 499.7,325.4 C501.1,326.8 502.6,329.7 503.6,332.1 C504.7,334.5 505.4,337.7 506,339.8 C506.6,341.9 506.7,343 506.9,345 C507.1,347 507,350.8 507,352" fill="none" stroke="#111" stroke-width="1.2"/>
<path d="M524.8,324 C524.1,324.2 521.9,324 520.5,325.4 C519.1,326.8 517.6,329.7 516.6,332.1 C515.6,334.5 514.8,337.7 514.2,339.8 C513.7,341.9 513.5,343 513.3,345 C513.1,347 513.2,350.8 513.2,352" fill="none" stroke="#111" stroke-width="1.2"/>
<path d="M494,323.3 C494.6,324.1 496.3,326.2 497.3,328.3 C498.3,330.4 499.4,333.2 500.2,336 C501,338.8 501.6,342.5 502.1,345 C502.6,347.5 503.1,348.5 503.3,351 C503.5,353.5 503.3,358.5 503.3,360" fill="none" stroke="#111" stroke-width="1.2"/>
<path d="M526.2,323.3 C525.7,324.1 523.9,326.2 522.9,328.3 C521.9,330.4 520.8,333.2 520,336 C519.2,338.8 518.6,342.5 518.1,345 C517.6,347.5 517.1,348.5 516.9,351 C516.7,353.5 516.9,358.5 516.9,360" fill="none" stroke="#111" stroke-width="1.2"/>
<path d="M503.3,358 V453.5 M516.9,358 V453.5" fill="none" stroke="#111" stroke-width="1.2"/>
<path d="M507,352.2 V453.5 M513.2,352.2 V453.5" fill="none" stroke="#111" stroke-width="1.9"/>
<rect x="444.6" y="453.6" width="131" height="4.6" rx="2.3" fill="#fff" stroke="#111" stroke-width="1.1"/>
<rect x="444.2" y="475.5" width="131.8" height="4.6" rx="2.3" fill="#fff" stroke="#111" stroke-width="1.1"/>
<rect x="501.9" y="458.5" width="16.7" height="16.7" rx="3.6" ry="5" fill="none" stroke="#111" stroke-width="1.2"/>
<rect x="519.2" y="458.5" width="15.4" height="16.7" rx="3.6" ry="5" fill="none" stroke="#111" stroke-width="1.2"/>
<rect x="535.9" y="458.5" width="13.4" height="16.7" rx="3.6" ry="5" fill="none" stroke="#111" stroke-width="1.2"/>
<rect x="550.5" y="458.5" width="10.3" height="16.7" rx="3.6" ry="5" fill="none" stroke="#111" stroke-width="1.2"/>
<rect x="562" y="458.5" width="8" height="16.7" rx="3.6" ry="5" fill="none" stroke="#111" stroke-width="1.2"/>
<rect x="570.6" y="458.5" width="4.8" height="16.7" rx="2.3" ry="5" fill="none" stroke="#111" stroke-width="1.2"/>
<rect x="485.6" y="458.5" width="15.4" height="16.7" rx="3.6" ry="5" fill="none" stroke="#111" stroke-width="1.2"/>
<rect x="470.9" y="458.5" width="13.4" height="16.7" rx="3.6" ry="5" fill="none" stroke="#111" stroke-width="1.2"/>
<rect x="459.4" y="458.5" width="10.3" height="16.7" rx="3.6" ry="5" fill="none" stroke="#111" stroke-width="1.2"/>
<rect x="450.2" y="458.5" width="8" height="16.7" rx="3.6" ry="5" fill="none" stroke="#111" stroke-width="1.2"/>
<rect x="444.8" y="458.5" width="4.8" height="16.7" rx="2.3" ry="5" fill="none" stroke="#111" stroke-width="1.2"/>
<path d="M445.2,458.4 C444.9,459.2 443.9,460.9 443.6,463 C443.3,465.1 443.3,468.9 443.6,471 C443.9,473.1 444.9,474.8 445.2,475.5" fill="none" stroke="#111" stroke-width="1.2"/>
<path d="M575,458.4 C575.3,459.2 576.3,460.9 576.6,463 C576.9,465.1 576.9,468.9 576.6,471 C576.3,473.1 575.3,474.8 575,475.5" fill="none" stroke="#111" stroke-width="1.2"/>
<path d="M454.6,480.4 C454.6,480.9 453.5,482.1 454.6,483.3 C455.8,484.5 459.2,485.8 461.5,487.5 C463.8,489.2 466.2,491.4 468.4,493.7 C470.6,496 472.8,498.6 474.6,501.3 C476.4,504 477.9,507.1 479.2,509.8 C480.5,512.5 481.5,515.5 482.2,517.4 C482.9,519.3 483.2,520.6 483.4,521.3" fill="none" stroke="#111" stroke-width="1.9"/>
<path d="M565.6,480.4 C565.6,480.9 566.8,482.1 565.6,483.3 C564.5,484.5 561,485.8 558.7,487.5 C556.4,489.2 554,491.4 551.8,493.7 C549.6,496 547.4,498.6 545.6,501.3 C543.8,504 542.3,507.1 541,509.8 C539.7,512.5 538.7,515.5 538,517.4 C537.3,519.3 537,520.6 536.8,521.3" fill="none" stroke="#111" stroke-width="1.9"/>
<path d="M503,481.8 C503.2,483.4 504.1,487.8 504.5,491.3 C504.9,494.8 505.3,499.3 505.6,502.9 C505.9,506.5 506.2,509.7 506.4,512.8 C506.6,515.9 506.6,519.9 506.6,521.3" fill="none" stroke="#111" stroke-width="1.2"/>
<path d="M517.2,481.8 C517,483.4 516.1,487.8 515.7,491.3 C515.3,494.8 514.9,499.3 514.6,502.9 C514.3,506.5 514,509.7 513.8,512.8 C513.6,515.9 513.6,519.9 513.6,521.3" fill="none" stroke="#111" stroke-width="1.2"/>
<path d="M489.1,481.8 C489.8,483.1 491.9,486.9 493,489.8 C494.1,492.7 495.1,495.9 496,499 C496.9,502.1 497.7,505.2 498.3,508.2 C498.9,511.1 499.6,514.5 499.9,516.7 C500.2,518.9 500.2,520.5 500.3,521.3" fill="none" stroke="#111" stroke-width="1.2"/>
<path d="M531.1,481.8 C530.5,483.1 528.4,486.9 527.2,489.8 C526.1,492.7 525.1,495.9 524.2,499 C523.3,502.1 522.6,505.2 521.9,508.2 C521.3,511.1 520.6,514.5 520.3,516.7 C520,518.9 520,520.5 519.9,521.3" fill="none" stroke="#111" stroke-width="1.2"/>
<path d="M476.5,482.1 C477.4,483.1 480.5,486 482.2,488.3 C483.9,490.6 485.4,493.2 486.8,496 C488.2,498.8 489.6,502.1 490.7,505.2 C491.8,508.3 492.8,511.7 493.4,514.4 C494,517.1 494.3,520.1 494.5,521.3" fill="none" stroke="#111" stroke-width="1.2"/>
<path d="M543.7,482.1 C542.8,483.1 539.7,486 538,488.3 C536.3,490.6 534.8,493.2 533.4,496 C532,498.8 530.6,502.1 529.5,505.2 C528.4,508.3 527.4,511.7 526.8,514.4 C526.2,517.1 525.9,520.1 525.7,521.3" fill="none" stroke="#111" stroke-width="1.2"/>
<path d="M466.5,481.8 C467.6,482.6 470.9,484.7 473,486.7 C475.1,488.7 477.3,491.1 479.2,493.7 C481.1,496.3 483,499.3 484.5,502.1 C486,504.9 487.5,507.3 488.4,510.5 C489.3,513.7 489.6,519.5 489.9,521.3" fill="none" stroke="#111" stroke-width="1.2"/>
<path d="M553.7,481.8 C552.6,482.6 549.3,484.7 547.2,486.7 C545.1,488.7 542.9,491.1 541,493.7 C539.1,496.3 537.2,499.3 535.7,502.1 C534.2,504.9 532.7,507.3 531.8,510.5 C530.9,513.7 530.6,519.5 530.3,521.3" fill="none" stroke="#111" stroke-width="1.2"/>
<path d="M460,481.8 C461.3,482.6 465.3,484.7 467.7,486.7 C470.1,488.7 472.4,491.1 474.6,493.7 C476.8,496.3 479,499.3 480.7,502.1 C482.4,504.9 483.8,507.8 484.9,510.5 C486,513.2 487,516.4 487.6,518.2 C488.2,520 488.3,520.8 488.4,521.3" fill="none" stroke="#111" stroke-width="1.2"/>
<path d="M560.2,481.8 C558.9,482.6 554.9,484.7 552.5,486.7 C550.1,488.7 547.8,491.1 545.6,493.7 C543.4,496.3 541.2,499.3 539.5,502.1 C537.8,504.9 536.5,507.8 535.3,510.5 C534.2,513.2 533.2,516.4 532.6,518.2 C532,520 531.9,520.8 531.8,521.3" fill="none" stroke="#111" stroke-width="1.2"/>
<path d="M457.7,481.4 C458.9,482.2 462.3,484.1 464.6,486 C466.9,487.9 469.3,490.3 471.5,492.9 C473.7,495.4 475.8,498.4 477.6,501.3 C479.4,504.2 481,507.7 482.2,510.5 C483.4,513.3 484.3,516.4 484.9,518.2 C485.5,520 485.6,520.8 485.7,521.3" fill="none" stroke="#111" stroke-width="1.2"/>
<path d="M562.5,481.4 C561.4,482.2 557.9,484.1 555.6,486 C553.3,487.9 550.9,490.3 548.7,492.9 C546.5,495.4 544.4,498.4 542.6,501.3 C540.8,504.2 539.2,507.7 538,510.5 C536.8,513.3 535.9,516.4 535.3,518.2 C534.7,520 534.6,520.8 534.5,521.3" fill="none" stroke="#111" stroke-width="1.2"/>
<path d="M454.6,481.3 Q457.3,483.6 460,481.3 Q463.2,484 466.5,481.3 Q471.5,485.5 476.5,481.3 Q482.8,485.9 489.1,481.3 Q496.1,485.9 503,481.3 Q510.1,485.9 517.2,481.3 Q524.2,485.9 531.1,481.3 Q537.4,485.9 543.7,481.3 Q548.7,485.5 553.7,481.3 Q557,484 560.2,481.3 Q562.9,483.6 565.6,481.3" fill="none" stroke="#111" stroke-width="1.2"/>
<path d="M483,521.4 H537.2" fill="none" stroke="#111" stroke-width="1.3"/>
<path d="M487.6,521.5 V528.2 H532.7 V521.5" fill="none" stroke="#111" stroke-width="1.2"/>
<path d="M496.6,528.2 V532.5 M523.5,528.2 V532.5" fill="none" stroke="#111" stroke-width="1.2"/>
<path d="M496.6,532.8 H523.5" fill="none" stroke="#000" stroke-width="1.6"/>
<rect x="495.1" y="533.4" width="29.9" height="6.3" rx="3" fill="#fff" stroke="#111" stroke-width="1.2"/>
<path d="M498.8,539.7 C499.1,540.5 500.4,543.1 500.4,544.7 C500.4,546.3 499.1,548.5 498.8,549.3" fill="none" stroke="#111" stroke-width="1.2"/>
<path d="M521.4,539.7 C521.1,540.5 519.8,543.1 519.8,544.7 C519.8,546.3 521.1,548.5 521.4,549.3" fill="none" stroke="#111" stroke-width="1.2"/>
<path d="M498.4,549.4 H521.8" fill="none" stroke="#000" stroke-width="1.5"/>
<path d="M498.4,549.4 V551.6 M521.8,549.4 V551.6" fill="none" stroke="#111" stroke-width="1.2"/>
<path d="M498.2,551.7 C497.8,552.8 496.3,555.6 495.5,558 C494.7,560.4 493.9,563.4 493.5,565.8 C493.1,568.2 492.7,571.3 492.8,572.6 C492.9,573.9 494,573.2 494.4,573.4 C494.8,573.6 494.8,573 495.2,574 C495.6,575 496,577.4 497,579.6 C498,581.8 499.7,585.1 501.2,587.4 C502.7,589.7 504.5,591.8 506,593.4 C507.5,595 509.4,596.2 510.1,596.8 L510.1,596.8 C510.8,596.2 512.7,595 514.2,593.4 C515.7,591.8 517.5,589.7 519,587.4 C520.5,585.1 522.2,581.8 523.2,579.6 C524.2,577.4 524.6,575 525,574 C525.4,573 525.4,573.6 525.8,573.4 C526.2,573.2 527.3,573.9 527.4,572.6 C527.6,571.3 527.2,568.2 526.7,565.8 C526.2,563.4 525.5,560.4 524.7,558 C523.9,555.6 522.5,552.8 522,551.7Z" fill="#fff" stroke="#111" stroke-width="1.2"/>
<clipPath id="fc"><rect x="492" y="552.2" width="37" height="46"/></clipPath>
<path d="M509.4,565.6 A3.5,3.5 0 1 1 510.8,565.6 M509,567.6 A5.5,5.5 0 1 1 511.2,567.6 M508.6,569.6 A7.5,7.5 0 1 1 511.6,569.6 M508.2,571.5 A9.5,9.5 0 1 1 512,571.5" fill="none" stroke="#000" stroke-width="0.95" stroke-linecap="round" clip-path="url(#fc)"/>
<circle cx="510.1" cy="562.2" r="1.5" fill="none" stroke="#000" stroke-width="1"/>
<path d="M500.5,553 C500.1,554 498.6,556.9 498.3,559 C498,561.1 498.2,563.7 498.6,565.5 C499,567.3 500.3,569.2 500.6,570" fill="none" stroke="#111" stroke-width="0.8"/>
<path d="M519.7,553 C520.1,554 521.6,556.9 521.9,559 C522.2,561.1 522,563.7 521.6,565.5 C521.2,567.3 519.9,569.2 519.6,570" fill="none" stroke="#111" stroke-width="0.8"/>
<path d="M502,552.6 L499.8,557" fill="none" stroke="#111" stroke-width="0.8"/>
<path d="M518.2,552.6 L520.4,557" fill="none" stroke="#111" stroke-width="0.8"/>
<path d="M498.4,552.6 C497.9,553.6 496.5,556.3 495.7,558.5 C494.9,560.7 494.2,563.8 493.8,566 C493.4,568.2 493.1,570.7 493.2,571.8 C493.3,572.9 494,572.8 494.6,572.8 C495.2,572.8 496.2,572.5 496.6,571.5 C497,570.5 497.1,568.3 497.2,566.5 C497.3,564.7 496.7,562.6 497,560.5 C497.3,558.4 498.5,555.1 498.8,554" fill="none" stroke="#111" stroke-width="0.9"/>
<path d="M521.8,552.6 C522.2,553.6 523.7,556.3 524.5,558.5 C525.3,560.7 526,563.8 526.4,566 C526.8,568.2 527.1,570.7 527,571.8 C526.9,572.9 526.2,572.8 525.6,572.8 C525,572.8 524,572.5 523.6,571.5 C523.2,570.5 523.1,568.3 523,566.5 C522.9,564.7 523.5,562.6 523.2,560.5 C522.9,558.4 521.7,555.1 521.4,554" fill="none" stroke="#111" stroke-width="0.9"/>
<path d="M496.5,559.5 C496.3,560.6 495.6,564.2 495.4,566 C495.2,567.8 495.2,569.5 495.2,570.2" fill="none" stroke="#111" stroke-width="0.7"/>
<path d="M523.7,559.5 C523.9,560.6 524.6,564.2 524.8,566 C525,567.8 525,569.5 525,570.2" fill="none" stroke="#111" stroke-width="0.7"/>
<path d="M497.2,573.7 C497.5,574.8 498.3,577.7 499.1,580 C499.9,582.3 500.3,584.9 502.1,587.6 C503.9,590.3 508.5,594.9 509.8,596.4" fill="none" stroke="#111" stroke-width="1"/>
<path d="M523,573.7 C522.7,574.8 521.9,577.7 521.1,580 C520.3,582.3 519.9,584.9 518.1,587.6 C516.3,590.3 511.7,594.9 510.4,596.4" fill="none" stroke="#111" stroke-width="1"/>
<path d="M499.2,573.8 C499.5,574.8 500.5,577.7 501.3,580 C502.1,582.3 502.8,584.9 504.2,587.6 C505.6,590.3 508.9,594.9 509.8,596.4" fill="none" stroke="#111" stroke-width="1"/>
<path d="M521,573.8 C520.6,574.8 519.7,577.7 518.9,580 C518.1,582.3 517.4,584.9 516,587.6 C514.6,590.3 511.3,594.9 510.4,596.4" fill="none" stroke="#111" stroke-width="1"/>
<path d="M501.2,573.9 C501.6,574.9 502.6,577.7 503.5,580 C504.4,582.3 505.2,584.9 506.3,587.6 C507.4,590.3 509.2,594.9 509.8,596.4" fill="none" stroke="#111" stroke-width="1"/>
<path d="M519,573.9 C518.6,574.9 517.6,577.7 516.7,580 C515.9,582.3 515,584.9 513.9,587.6 C512.9,590.3 511,594.9 510.4,596.4" fill="none" stroke="#111" stroke-width="1"/>
<path d="M503.2,574 C503.6,575 504.8,577.7 505.7,580 C506.6,582.3 507.7,584.9 508.4,587.6 C509.1,590.3 509.6,594.9 509.8,596.4" fill="none" stroke="#111" stroke-width="1"/>
<path d="M517,574 C516.6,575 515.4,577.7 514.5,580 C513.6,582.3 512.5,584.9 511.8,587.6 C511.1,590.3 510.6,594.9 510.4,596.4" fill="none" stroke="#111" stroke-width="1"/>
<path d="M504.3,573.4 L507.2,584.4" fill="none" stroke="#111" stroke-width="0.9"/>
<path d="M515.9,573.4 L513,584.4" fill="none" stroke="#111" stroke-width="0.9"/>
<circle cx="418.2" cy="846.8" r="110.6" fill="none" stroke="#111" stroke-width="1.1"/>
<circle cx="418.2" cy="846.8" r="95.6" fill="none" stroke="#111" stroke-width="1.2"/>
<circle cx="418.2" cy="846.8" r="91.4" fill="none" stroke="#111" stroke-width="1.2"/>
<circle cx="418.2" cy="846.8" r="81.2" fill="none" stroke="#111" stroke-width="1.7"/>
<path d="M453.9,851.5 L498.5,857.4 M451.5,860.6 L493,877.8 M446.8,868.7 L482.5,896.1 M440.1,875.4 L467.5,911.1 M432,880.1 L449.2,921.6 M422.9,882.5 L428.8,927.1 M413.5,882.5 L407.6,927.1 M404.4,880.1 L387.2,921.6 M396.3,875.4 L368.9,911.1 M389.6,868.7 L353.9,896.1 M384.9,860.6 L343.4,877.8 M382.5,851.5 L337.9,857.4 M382.5,842.1 L337.9,836.2 M384.9,833 L343.4,815.8 M389.6,824.9 L353.9,797.5 M396.3,818.2 L368.9,782.5 M404.4,813.5 L387.2,772 M413.5,811.1 L407.6,766.5 M422.9,811.1 L428.8,766.5 M432,813.5 L449.2,772 M440.1,818.2 L467.5,782.5 M446.8,824.9 L482.5,797.5 M451.5,833 L493,815.8 M453.9,842.1 L498.5,836.2" fill="none" stroke="#111" stroke-width="1.2"/>
<path d="M453.3,851.4 Q456.3,857 450.9,860.3 Q452.3,866.5 446.3,868.4 Q446.1,874.7 439.8,874.9 Q437.9,880.9 431.7,879.5 Q428.4,884.9 422.8,881.9 Q418.2,886.2 413.6,881.9 Q408,884.9 404.7,879.5 Q398.5,880.9 396.6,874.9 Q390.3,874.7 390.1,868.4 Q384.1,866.5 385.5,860.3 Q380.1,857 383.1,851.4 Q378.8,846.8 383.1,842.2 Q380.1,836.6 385.5,833.3 Q384.1,827.1 390.1,825.2 Q390.3,818.9 396.6,818.7 Q398.5,812.7 404.7,814.1 Q408,808.7 413.6,811.7 Q418.2,807.4 422.8,811.7 Q428.4,808.7 431.7,814.1 Q437.9,812.7 439.8,818.7 Q446.1,818.9 446.3,825.2 Q452.3,827.1 450.9,833.3 Q456.3,836.6 453.3,842.2 Q457.6,846.8 453.3,851.4Z" fill="none" stroke="#111" stroke-width="1.2"/>
<circle cx="418.2" cy="846.8" r="31.7" fill="none" stroke="#111" stroke-width="1.2"/>
<circle cx="418.2" cy="846.8" r="30" fill="none" stroke="#111" stroke-width="1.2"/>
<circle cx="418.2" cy="846.8" r="18.7" fill="none" stroke="#111" stroke-width="1.2"/>
<path d="M572,838.6 Q583,838.8 589.2,841.4 V852.6 Q583,855.2 572,855.4" fill="#fff" stroke="#333" stroke-width="1.2"/>
<rect x="590.2" y="836.8" width="6.9" height="20.3" rx="3.2" fill="#fff" stroke="#111" stroke-width="1.2"/>
<path d="M394,838.5 H572.5 Q581.8,847 572.5,855.4 H394Z" fill="#fff" stroke="#111" stroke-width="1.2"/>
<path d="M455.4,839 Q457.8,847 455.4,855" fill="none" stroke="#111" stroke-width="1" stroke-dasharray="2.5 1.6"/>
<path d="M374.6,842 Q375.2,839 380,838.5 H396.8 Q405.5,839.5 407.3,846.9 Q405.5,854.4 396.8,855.4 H380 Q375.2,855 374.6,851.8Z" fill="#fff" stroke="#000" stroke-width="1.3"/>
<path d="M379.7,846.9 L384.2,844.2 L392.8,841.6 L394.6,844.2 L395.4,846.9 L394.6,849.7 L392.8,852.2 L384.2,849.6Z" fill="none" stroke="#000" stroke-width="1.1"/>
<path d="M375.6,844 L381.5,839.4 M377.6,845.6 L385,839.6 M380.4,845.8 L387.5,840.6" fill="none" stroke="#000" stroke-width="1.2"/>
<path d="M375.6,849.8 L381.5,854.5 M377.6,848.2 L385,854.3 M380.4,848 L387.5,853.3" fill="none" stroke="#000" stroke-width="1.2"/>
<path d="M385.5,843 L393.5,839.6 L394.5,841 M385.5,850.8 L393.5,854.3 L394.5,852.8" fill="none" stroke="#000" stroke-width="1.1"/>
<path d="M394.6,844.2 Q400,840 405.5,844.5 M394.6,849.7 Q400,853.9 405.5,849.3" fill="none" stroke="#000" stroke-width="1.1"/>
<path d="M396,843.8 L404.5,845.8 M396,850 L404.5,848.1 M398,846.9 H407" fill="none" stroke="#000" stroke-width="1"/>
<path d="M395.4,846.9 L399.8,846 L399.8,847.8Z" fill="#000" stroke="#000" stroke-width="1"/>
<path d="M374.6,846 H378.5 V848 H374.6" fill="none" stroke="#000" stroke-width="0.9"/>
<path d="M600,790.1 H616.8 V903.6 H600Z" fill="none" stroke="#111" stroke-width="1.2"/>
<path d="M600,808.6 H616.8 M600,885.2 H616.8" fill="none" stroke="#111" stroke-width="1.2"/>
<path d="M600,794.3 H597 V899.3 H600" fill="none" stroke="#111" stroke-width="1.2"/>
<path d="M597,811 H600 M597,882.3 H600" fill="none" stroke="#111" stroke-width="1.2"/>
</svg>
</body></html>
